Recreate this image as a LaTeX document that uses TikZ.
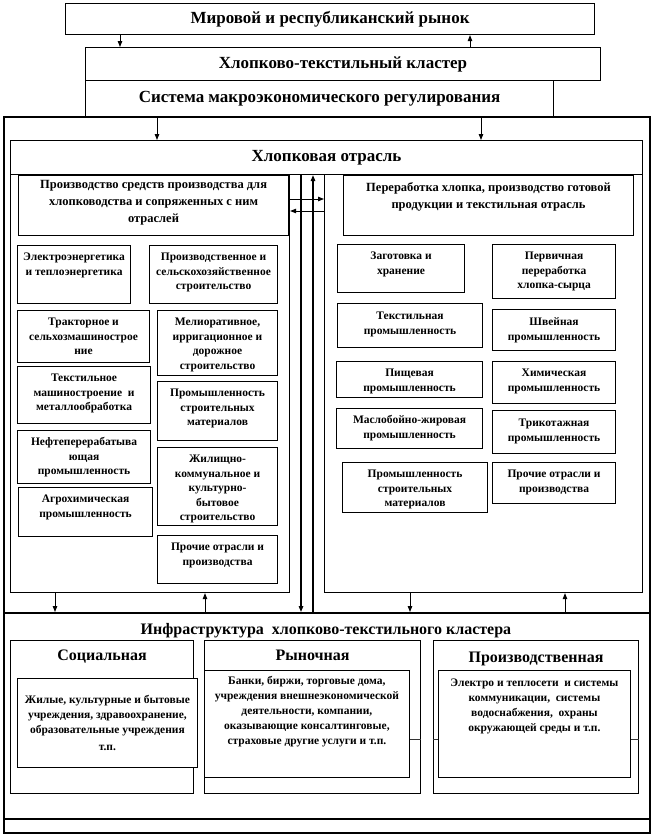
\documentclass[tikz,border=0pt]{standalone}
\usepackage{fontspec}
\setmainfont{Liberation Serif}
\usetikzlibrary{arrows.meta,shadows}

\newcommand\myfsmall{\fontsize{11.5}{14.5}\selectfont\bfseries}
\newcommand\myfhead{\fontsize{12.5}{17}\selectfont\bfseries}
\newcommand\myftitle{\fontsize{17}{20}\selectfont\bfseries}
\newcommand\myfsub{\fontsize{16}{19}\selectfont\bfseries}
\newcommand\myfinf{\fontsize{11.5}{15}\selectfont\bfseries}

% top-aligned box: name x1 y1 x2 y2 style strut text
\newcommand\mybox[8]{%
  \pgfmathsetmacro\mbw{#4-#2}%
  \pgfmathsetmacro\mbh{#5-#3}%
  \pgfmathsetmacro\mbtw{#4-#2-4}%
  \node[#6,minimum width=\mbw pt,minimum height=\mbh pt,anchor=north west] (#1) at (#2,#3)
    {\parbox[c][\mbh pt][t]{\mbtw pt}{\centering\rule{0pt}{#7pt}#8\par}};%
}
% centred box: name x1 y1 x2 y2 style text
\newcommand\mycbox[7]{%
  \pgfmathsetmacro\mbw{#4-#2}%
  \pgfmathsetmacro\mbh{#5-#3}%
  \node[#6,minimum width=\mbw pt,minimum height=\mbh pt,anchor=north west,align=center] (#1) at (#2,#3) {#7};%
}

\begin{document}
\begin{tikzpicture}[x=1pt,y=-1pt,
  box/.style={draw,line width=1.1pt,fill=white,inner sep=0pt,
    drop shadow={shadow xshift=0.9pt,shadow yshift=-0.9pt,fill=black!45,opacity=1}},
  plain/.style={draw,line width=1.1pt,fill=white,inner sep=0pt},
  thinbox/.style={draw,line width=0.8pt,fill=white,inner sep=0pt},
  arr/.style={-{Triangle[length=6pt,width=4.5pt]},line width=0.9pt},
  carr/.style={-{Triangle[length=6pt,width=4.5pt]},line width=1.3pt},
  divider/.style={line width=0.8pt,black!80}]
\useasboundingbox (0,0) rectangle (653,836);

% outer frame
\mycbox{outer}{3}{116}{649}{832}{draw,line width=1.8pt,inner sep=0pt}{}

% top boxes
\mycbox{top}{65}{3}{594}{34}{box,font=\myftitle}{Мировой и республиканский рынок}
\mycbox{cluster}{85}{47}{600}{80}{box,font=\myftitle}{Хлопково-текстильный кластер}
\mycbox{macro}{85}{80}{553}{116}{box,font=\myftitle}{Система макроэкономического регулирования}

% cotton branch
\mycbox{hl}{10}{140}{642}{174}{plain,font=\myftitle}{Хлопковая отрасль}
\mycbox{lp}{10}{174}{289}{592}{plain}{}
\mycbox{rp}{324}{174}{642}{592}{plain}{}

\mybox{lh}{18}{175}{288}{235}{box,font=\myfhead}{13}{Производство средств производства для\\хлопководства и сопряженных с ним\\отраслей}
\mybox{rh}{343}{175}{633}{235}{box,font=\myfhead}{16}{Переработка хлопка, производство готовой\\продукции и текстильная отрасль}

% left boxes
\mybox{l1}{17}{245}{130}{303}{box,font=\myfsmall}{15}{Электроэнергетика\\и теплоэнергетика}
\mybox{l2}{149}{245}{277}{303}{box,font=\myfsmall}{15}{Производственное и\\сельскохозяйственное\\строительство}
\mybox{l3}{17}{310}{149}{362}{box,font=\myfsmall}{15}{Тракторное и\\сельхозмашинострое\\ние}
\mybox{l4}{157}{310}{277}{375}{box,font=\myfsmall}{15}{Мелиоративное,\\ирригационное и\\дорожное\\строительство}
\mybox{l5}{17}{366}{150}{423}{box,font=\myfsmall}{15}{Текстильное\\машиностроение~ и\\металлообработка}
\mybox{l6}{157}{381}{277}{440}{box,font=\myfsmall}{15}{Промышленность\\строительных\\материалов}
\mybox{l7}{17}{430}{150}{483}{box,font=\myfsmall}{15}{Нефтеперерабатыва\\ющая\\промышленность}
\mybox{l8}{18}{487}{152}{536}{box,font=\myfsmall}{15}{Агрохимическая\\промышленность}
\mybox{l9}{157}{447}{277}{525}{box,font=\myfsmall}{15}{Жилищно-\\коммунальное и\\культурно-\\бытовое\\строительство}
\mybox{l10}{157}{535}{277}{583}{box,font=\myfsmall}{15}{Прочие отрасли и\\производства}

% right boxes
\mybox{r1}{337}{244}{464}{292}{box,font=\myfsmall}{15}{Заготовка и\\хранение}
\mybox{r2}{492}{244}{615}{298}{box,font=\myfsmall}{15}{Первичная\\переработка\\хлопка-сырца}
\mybox{r3}{337}{303}{482}{347}{box,font=\myfsmall}{16}{Текстильная\\промышленность}
\mybox{r4}{492}{309}{615}{350}{box,font=\myfsmall}{16}{Швейная\\промышленность}
\mybox{r5}{336}{361}{482}{397}{box,font=\myfsmall}{15}{Пищевая\\промышленность}
\mybox{r6}{492}{361}{615}{403}{box,font=\myfsmall}{15}{Химическая\\промышленность}
\mybox{r7}{336}{408}{482}{448}{box,font=\myfsmall}{15}{Маслобойно-жировая\\промышленность}
\mybox{r8}{492}{410}{615}{453}{box,font=\myfsmall}{16}{Трикотажная\\промышленность}
\mybox{r9}{342}{462}{487}{512}{box,font=\myfsmall}{15}{Промышленность\\строительных\\материалов}
\mybox{r10}{492}{462}{615}{503}{box,font=\myfsmall}{15}{Прочие отрасли и\\производства}

% infrastructure
\mycbox{infra}{3}{612}{649}{818}{draw,line width=1.5pt,inner sep=0pt}{}
\node[font=\myfsub,inner sep=0pt] (inft) at (326,631) {Инфраструктура~ хлопково-текстильного кластера};

\mybox{soc}{10}{640}{193}{793}{box,font=\myfsub}{20}{Социальная}
\mybox{mar}{204}{640}{420}{793}{box,font=\myfsub}{20}{Рыночная}
\mybox{prod}{433}{640}{638}{793}{box,font=\myfsub}{22}{Производственная}

\coordinate (y739) at (0,739);
\draw[divider] (mar.west |- y739) -- (mar.east |- y739);
\draw[divider] (prod.west |- y739) -- (prod.east |- y739);

\mycbox{socin}{17}{678}{197}{767}{thinbox,font=\myfinf}{Жилые, культурные и бытовые\\учреждения, здравоохранение,\\образовательные учреждения\\[2pt]т.п.}
\mybox{marin}{204}{670}{409}{777}{thinbox,font=\myfinf}{14}{Банки, биржи, торговые дома,\\учреждения внешнеэкономической\\деятельности, компании,\\оказывающие консалтинговые,\\страховые другие услуги и т.п.}
\mybox{prodin}{438}{670}{630}{777}{thinbox,font=\myfinf}{16}{Электро и теплосети~ и системы\\коммуникации,~ системы\\водоснабжения,~ охраны\\окружающей среды и т.п.}

% connector coordinates
\coordinate (x120) at (120,0);
\coordinate (x470) at (470,0);
\coordinate (x157) at (157,0);
\coordinate (x481) at (481,0);
\coordinate (x301) at (301,0);
\coordinate (x313) at (313,0);
\coordinate (x55) at (55,0);
\coordinate (x205) at (205,0);
\coordinate (x410) at (410,0);
\coordinate (x565) at (565,0);
\coordinate (y199) at (0,199);
\coordinate (y211) at (0,211);

% arrows
\draw[arr] (x120 |- top.south) -- (x120 |- cluster.north);
\draw[arr] (x470 |- cluster.north) -- (x470 |- top.south);
\draw[arr] (x157 |- outer.north) -- (x157 |- hl.north);
\draw[arr] (x481 |- outer.north) -- (x481 |- hl.north);
\draw[carr] (x301 |- hl.south) -- (x301 |- infra.north);
\draw[carr] (x313 |- infra.north) -- (x313 |- hl.south);
\draw[arr] (lp.east |- y199) -- (rp.west |- y199);
\draw[arr] (rp.west |- y211) -- (lp.east |- y211);
\draw[arr] (x55 |- lp.south) -- (x55 |- infra.north);
\draw[arr] (x205 |- infra.north) -- (x205 |- lp.south);
\draw[arr] (x410 |- rp.south) -- (x410 |- infra.north);
\draw[arr] (x565 |- infra.north) -- (x565 |- rp.south);
\end{tikzpicture}
\end{document}
